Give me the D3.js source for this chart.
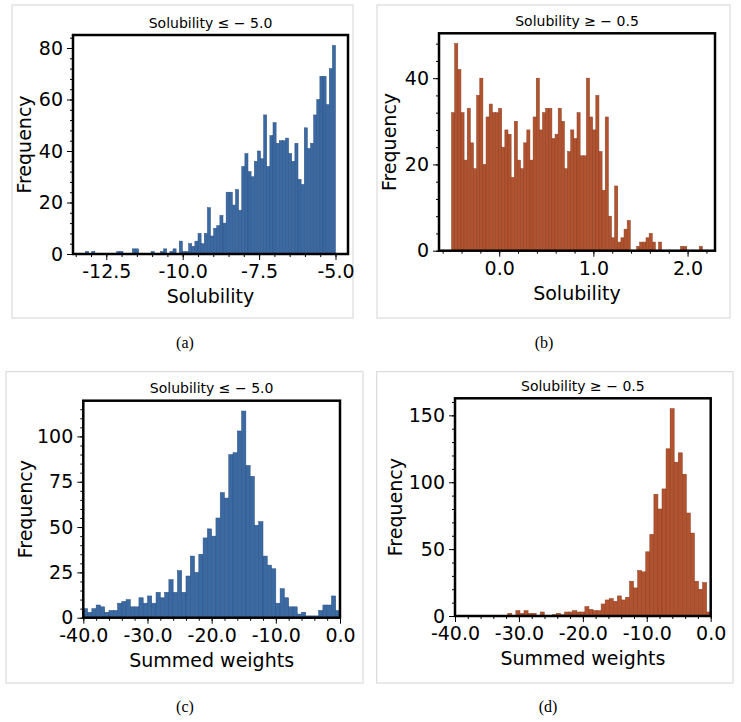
<!DOCTYPE html>
<html>
<head>
<meta charset="utf-8">
<script src="https://cdn.jsdelivr.net/npm/d3@7"></script>
<style>
  body { margin: 0; background: #fff; }
  svg { display: block; font-family: "DejaVu Sans", sans-serif; }
</style>
</head>
<body>
<div id="chart"></div>
<script>
// bin counts
var solLowCounts = [1,0,1,0,0,0,0,0,0,0, 1,1,0,0,0,2,2,0,0,0, 0,1,0,0,1,2,0,1,2,0,
  5,1,1,4,3,5,8,4,8,18, 7,10,11,15,12,24,24,19,25,17, 34,39,32,30,36,40,37,54,34,46,
  51,43,44,44,45,39,36,43,29,27, 49,41,43,54,60,69,69,58,72,81];
var solHighCounts = [32,48,42,32,21,33,25,19,36,40, 20,31,34,32,32,33,24,28,27,17,
  30,21,19,25,28,21,31,40,28,32, 33,33,26,27,33,30,19,23,28,26, 32,22,22,40,31,28,36,23,14,31,
  8,3,15,2,3,5,7,0,0,1, 2,2,3,4,2,0,2,0,0,0, 0,0,0,1,1,0,0,0,0,1];
var wtLowCounts = [5,3,5,7,6,3,4,4,8,9, 10,6,6,11,8,12,8,14,11,14, 21,14,26,14,23,34,25,35,44,49,
  45,55,69,66,90,91,103,114,84,78, 51,53,34,29,27,8,16,11,6,6, 2,3,1,1,1,4,7,7,12,4];
var wtHighCounts = [0,0,0,0,0,0,0,0,0,0, 0,0,0,2,0,4,2,4,2,2, 0,3,0,0,1,2,1,3,3,4,
  3,3,7,5,4,4,9,12,13,11, 15,12,14,26,21,34,33,48,61,91, 80,95,125,155,115,122,106,77,62,26,
  20,25,3];

// value span covered by the bins
var solLowRange = [-13.18, -5.0];
var solHighRange = [-0.506, 2.158];
var wtRange = [-40, 0];

// tick labels
var solLowTicks = [-12.5, -10, -7.5, -5];
var solHighTicks = [0, 1, 2];
var wtTicks = [-40, -30, -20, -10, 0];
var freqTicksA = [0, 20, 40, 60, 80];
var freqTicksB = [0, 20, 40];
var freqTicksC = [0, 25, 50, 75, 100];
var freqTicksD = [0, 50, 100, 150];

var titles = ["Solubility \u2264 \u2212 5.0", "Solubility \u2265 \u2212 0.5", "Solubility \u2264 \u2212 5.0", "Solubility \u2265 \u2212 0.5"];
var xLabels = ["Solubility", "Solubility", "Summed weights", "Summed weights"];
var captions = ["(a)", "(b)", "(c)", "(d)"];

var blue = "#3b69a1", orange = "#b25330";

var svg = d3.select("#chart").append("svg")
  .attr("width", 741)
  .attr("height", 722);

var panels = [
  { counts: solLowCounts, range: solLowRange, xlim: null, xticks: solLowTicks, xminor: 0.5, yticks: freqTicksA, yminor: 4,
    color: blue, edge: "#2c5285", frame: [12, 5, 341, 313], axes: [73, 35, 348, 254], ylabX: 24, capX: 185, capY: 348 },
  { counts: solHighCounts, range: solHighRange, xlim: null, xticks: solHighTicks, xminor: 0.2, yticks: freqTicksB, yminor: 4,
    color: orange, edge: "#8c3d20", frame: [377, 5, 353, 313], axes: [439, 33.3, 715, 250.7], ylabX: 389, capX: 544, capY: 348 },
  { counts: wtLowCounts, range: wtRange, xlim: wtRange, xticks: wtTicks, xminor: 2, yticks: freqTicksC, yminor: 5,
    color: blue, edge: "#2c5285", frame: [6, 371.7, 357, 311.3], axes: [83.3, 400.7, 340, 617.7], ylabX: 25, capX: 185, capY: 712 },
  { counts: wtHighCounts, range: wtRange, xlim: wtRange, xticks: wtTicks, xminor: 2, yticks: freqTicksD, yminor: 10,
    color: orange, edge: "#8c3d20", frame: [376.7, 371.7, 356.3, 311.3], axes: [455, 398.3, 710.7, 616], ylabX: 395, capX: 548, capY: 712 }
];

panels.forEach(function (p, k) {
  var ax = p.axes;
  var n = p.counts.length;
  var w = (p.range[1] - p.range[0]) / n;
  var bins = p.counts.map(function (c, i) {
    return { x0: p.range[0] + i * w, x1: p.range[0] + (i + 1) * w, count: c };
  });

  // matplotlib style 5% margins when no limits are set
  var dom = p.xlim;
  if (!dom) {
    var pad = (p.range[1] - p.range[0]) * 0.05;
    dom = [p.range[0] - pad, p.range[1] + pad];
  }
  var x = d3.scaleLinear().domain(dom).range([ax[0], ax[2]]);
  var y = d3.scaleLinear().domain([0, d3.max(p.counts) * 1.05]).range([ax[3], ax[1]]);

  // light frame around each sub figure
  svg.append("rect")
    .attr("x", p.frame[0]).attr("y", p.frame[1])
    .attr("width", p.frame[2]).attr("height", p.frame[3])
    .attr("fill", "none")
    .attr("stroke", "#d4d4d4")
    .attr("stroke-width", 1);

  svg.append("clipPath").attr("id", "clip" + k)
    .append("rect")
    .attr("x", ax[0]).attr("y", ax[1])
    .attr("width", ax[2] - ax[0]).attr("height", ax[3] - ax[1]);

  svg.append("g")
    .attr("clip-path", "url(#clip" + k + ")")
    .selectAll("rect")
    .data(bins.filter(function (d) { return d.count > 0; }))
    .enter().append("rect")
    .attr("x", function (d) { return x(d.x0); })
    .attr("width", function (d) { return x(d.x1) - x(d.x0); })
    .attr("y", function (d) { return y(d.count); })
    .attr("height", function (d) { return y(0) - y(d.count); })
    .attr("fill", p.color)
    .attr("stroke", p.edge)
    .attr("stroke-width", 0.5);

  // minor ticks
  var xMinor = d3.range(Math.ceil(dom[0] / p.xminor), Math.floor(dom[1] / p.xminor) + 1)
    .map(function (i) { return i * p.xminor; });
  svg.append("g")
    .attr("transform", "translate(0," + ax[3] + ")")
    .call(d3.axisBottom(x).tickValues(xMinor).tickSize(3).tickFormat(""))
    .call(function (g) { g.select(".domain").remove(); });
  var yMinor = d3.range(0, y.domain()[1], p.yminor);
  svg.append("g")
    .attr("transform", "translate(" + ax[0] + ",0)")
    .call(d3.axisLeft(y).tickValues(yMinor).tickSize(3).tickFormat(""))
    .call(function (g) { g.select(".domain").remove(); });

  // major ticks and labels
  var xa = svg.append("g")
    .attr("transform", "translate(0," + ax[3] + ")")
    .call(d3.axisBottom(x).tickValues(p.xticks).tickSize(6).tickPadding(5)
      .tickFormat(function (d) { return d.toFixed(1); }));
  xa.select(".domain").remove();
  xa.selectAll("text").attr("font-size", 19).attr("font-family", "DejaVu Sans").attr("fill", "#000");

  var ya = svg.append("g")
    .attr("transform", "translate(" + ax[0] + ",0)")
    .call(d3.axisLeft(y).tickValues(p.yticks).tickSize(6).tickPadding(4)
      .tickFormat(d3.format("d")));
  ya.select(".domain").remove();
  ya.selectAll("text").attr("font-size", 19).attr("font-family", "DejaVu Sans").attr("fill", "#000");

  // thick spines
  svg.append("rect")
    .attr("x", ax[0]).attr("y", ax[1])
    .attr("width", ax[2] - ax[0]).attr("height", ax[3] - ax[1])
    .attr("fill", "none")
    .attr("stroke", "#000")
    .attr("stroke-width", 2.5);

  svg.append("text")
    .attr("x", (ax[0] + ax[2]) / 2).attr("y", ax[1] - 7.5)
    .attr("text-anchor", "middle")
    .attr("font-size", 14)
    .text(titles[k]);

  svg.append("text")
    .attr("x", (ax[0] + ax[2]) / 2).attr("y", ax[3] + 49)
    .attr("text-anchor", "middle")
    .attr("font-size", 19)
    .text(xLabels[k]);

  svg.append("text")
    .attr("transform", "translate(" + p.ylabX + "," + (ax[1] + ax[3]) / 2 + ") rotate(-90)")
    .attr("text-anchor", "middle")
    .attr("dy", "0.35em")
    .attr("font-size", 19)
    .text("Frequency");

  svg.append("text")
    .attr("x", p.capX).attr("y", p.capY)
    .attr("text-anchor", "middle")
    .attr("font-family", "Liberation Serif, serif")
    .attr("font-size", 16)
    .text(captions[k]);
});
</script>
</body>
</html>
